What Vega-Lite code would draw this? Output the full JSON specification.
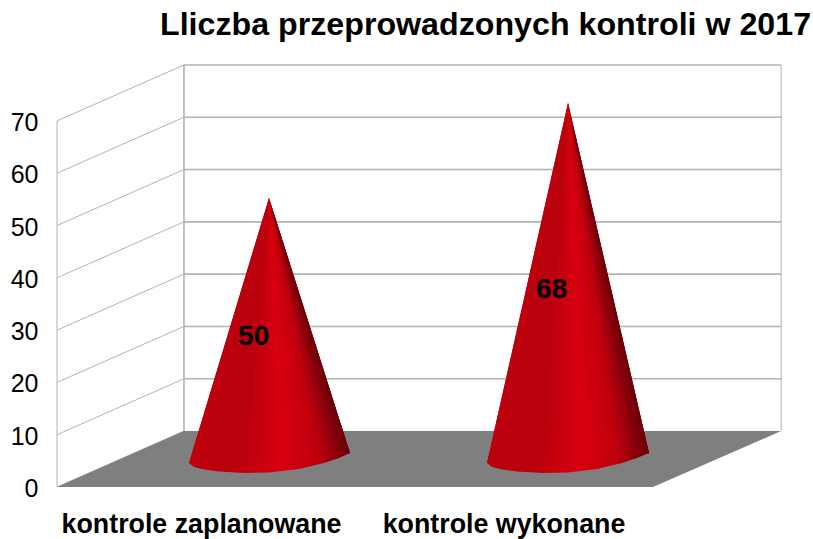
{
"$schema":"https://vega.github.io/schema/vega-lite/v6.json",
"width":813,"height":539,"padding":0,"autosize":{"type":"none"},"background":"white",
"config":{"view":{"stroke":null},"font":"Liberation Sans"},
"title":{"text":"Lliczba przeprowadzonych kontroli w 2017","anchor":"start","frame":"group","dx":160,"offset":-42,"fontSize":32.2,"fontWeight":"bold","color":"black","font":"Liberation Sans"},
"datasets":{
"floor":[{"x":0,"y":0,"y2":0},{"x":0.426,"y":0,"y2":10.7},{"x":2,"y":0,"y2":10.7},{"x":2.43,"y":10.7,"y2":10.7}],
"side":[
{"k":"a0","x":0,"y":0},{"k":"a0","x":0.426,"y":10.7},
{"k":"a10","x":0,"y":10},{"k":"a10","x":0.426,"y":20.7},
{"k":"a20","x":0,"y":20},{"k":"a20","x":0.426,"y":30.7},
{"k":"a30","x":0,"y":30},{"k":"a30","x":0.426,"y":40.7},
{"k":"a40","x":0,"y":40},{"k":"a40","x":0.426,"y":50.7},
{"k":"a50","x":0,"y":50},{"k":"a50","x":0.426,"y":60.7},
{"k":"a60","x":0,"y":60},{"k":"a60","x":0.426,"y":70.7},
{"k":"a70","x":0,"y":70},{"k":"a70","x":0.426,"y":80.7},
{"k":"v0","x":0,"y":0},{"k":"v0","x":0,"y":70},
{"k":"v2","x":2.43,"y":10.7},{"k":"v2","x":2.43,"y":80.7}
],
"back":[
{"k":"b10","x":0.426,"y":20.7},{"k":"b10","x":2.43,"y":20.7},
{"k":"b20","x":0.426,"y":30.7},{"k":"b20","x":2.43,"y":30.7},
{"k":"b30","x":0.426,"y":40.7},{"k":"b30","x":2.43,"y":40.7},
{"k":"b40","x":0.426,"y":50.7},{"k":"b40","x":2.43,"y":50.7},
{"k":"b50","x":0.426,"y":60.7},{"k":"b50","x":2.43,"y":60.7},
{"k":"b60","x":0.426,"y":70.7},{"k":"b60","x":2.43,"y":70.7},
{"k":"b70","x":0.426,"y":80.7},{"k":"b70","x":2.43,"y":80.7},
{"k":"v1","x":0.426,"y":10.7},{"k":"v1","x":0.426,"y":80.7}
],
"cones":[
{"c":"kontrole zaplanowane","x":0.4430,"y":4.59,"y2":4.59},
{"c":"kontrole zaplanowane","x":0.4597,"y":3.82,"y2":7.76},
{"c":"kontrole zaplanowane","x":0.4933,"y":3.35,"y2":14.09},
{"c":"kontrole zaplanowane","x":0.5436,"y":2.96,"y2":23.59},
{"c":"kontrole zaplanowane","x":0.6309,"y":2.68,"y2":40.06},
{"c":"kontrole zaplanowane","x":0.7114,"y":2.77,"y2":55.26},
{"c":"kontrole zaplanowane","x":0.8121,"y":3.44,"y2":37.21},
{"c":"kontrole zaplanowane","x":0.8960,"y":4.59,"y2":22.16},
{"c":"kontrole zaplanowane","x":0.9463,"y":5.54,"y2":13.12},
{"c":"kontrole zaplanowane","x":0.9832,"y":6.50,"y2":6.50},
{"c":"kontrole wykonane","x":1.4430,"y":4.59,"y2":4.59},
{"c":"kontrole wykonane","x":1.4597,"y":3.82,"y2":8.83},
{"c":"kontrole wykonane","x":1.4933,"y":3.35,"y2":17.34},
{"c":"kontrole wykonane","x":1.5436,"y":2.96,"y2":30.08},
{"c":"kontrole wykonane","x":1.6309,"y":2.68,"y2":52.18},
{"c":"kontrole wykonane","x":1.7148,"y":2.77,"y2":73.42},
{"c":"kontrole wykonane","x":1.8121,"y":3.44,"y2":49.46},
{"c":"kontrole wykonane","x":1.8960,"y":4.59,"y2":28.81},
{"c":"kontrole wykonane","x":1.9463,"y":5.54,"y2":16.42},
{"c":"kontrole wykonane","x":1.9866,"y":6.50,"y2":6.50}
],
"shade":[
{"c":"a","pos":0,"x":0.7114,"x2":0.7114,"y":55.26},{"c":"a","pos":0,"x":0.4430,"x2":0.4970,"y":4.59},
{"c":"a","pos":0.05,"x":0.7114,"x2":0.7114,"y":55.26},{"c":"a","pos":0.05,"x":0.4700,"x2":0.5240,"y":4.69},
{"c":"a","pos":0.1,"x":0.7114,"x2":0.7114,"y":55.26},{"c":"a","pos":0.1,"x":0.4970,"x2":0.5510,"y":4.78},
{"c":"a","pos":0.15,"x":0.7114,"x2":0.7114,"y":55.26},{"c":"a","pos":0.15,"x":0.5240,"x2":0.5781,"y":4.88},
{"c":"a","pos":0.2,"x":0.7114,"x2":0.7114,"y":55.26},{"c":"a","pos":0.2,"x":0.5510,"x2":0.6051,"y":4.97},
{"c":"a","pos":0.25,"x":0.7114,"x2":0.7114,"y":55.26},{"c":"a","pos":0.25,"x":0.5781,"x2":0.6321,"y":5.07},
{"c":"a","pos":0.3,"x":0.7114,"x2":0.7114,"y":55.26},{"c":"a","pos":0.3,"x":0.6051,"x2":0.6591,"y":5.16},
{"c":"a","pos":0.35,"x":0.7114,"x2":0.7114,"y":55.26},{"c":"a","pos":0.35,"x":0.6321,"x2":0.6861,"y":5.26},
{"c":"a","pos":0.4,"x":0.7114,"x2":0.7114,"y":55.26},{"c":"a","pos":0.4,"x":0.6591,"x2":0.7131,"y":5.35},
{"c":"a","pos":0.45,"x":0.7114,"x2":0.7114,"y":55.26},{"c":"a","pos":0.45,"x":0.6861,"x2":0.7401,"y":5.45},
{"c":"a","pos":0.5,"x":0.7114,"x2":0.7114,"y":55.26},{"c":"a","pos":0.5,"x":0.7131,"x2":0.7671,"y":5.55},
{"c":"a","pos":0.55,"x":0.7114,"x2":0.7114,"y":55.26},{"c":"a","pos":0.55,"x":0.7401,"x2":0.7941,"y":5.64},
{"c":"a","pos":0.6,"x":0.7114,"x2":0.7114,"y":55.26},{"c":"a","pos":0.6,"x":0.7671,"x2":0.8211,"y":5.74},
{"c":"a","pos":0.65,"x":0.7114,"x2":0.7114,"y":55.26},{"c":"a","pos":0.65,"x":0.7941,"x2":0.8482,"y":5.83},
{"c":"a","pos":0.7,"x":0.7114,"x2":0.7114,"y":55.26},{"c":"a","pos":0.7,"x":0.8211,"x2":0.8617,"y":5.93},
{"c":"a","pos":0.75,"x":0.7114,"x2":0.7114,"y":55.26},{"c":"a","pos":0.75,"x":0.8482,"x2":0.8752,"y":6.02},
{"c":"a","pos":0.775,"x":0.7114,"x2":0.7114,"y":55.26},{"c":"a","pos":0.775,"x":0.8617,"x2":0.8887,"y":6.07},
{"c":"a","pos":0.8,"x":0.7114,"x2":0.7114,"y":55.26},{"c":"a","pos":0.8,"x":0.8752,"x2":0.9022,"y":6.12},
{"c":"a","pos":0.825,"x":0.7114,"x2":0.7114,"y":55.26},{"c":"a","pos":0.825,"x":0.8887,"x2":0.9157,"y":6.17},
{"c":"a","pos":0.85,"x":0.7114,"x2":0.7114,"y":55.26},{"c":"a","pos":0.85,"x":0.9022,"x2":0.9292,"y":6.21},
{"c":"a","pos":0.875,"x":0.7114,"x2":0.7114,"y":55.26},{"c":"a","pos":0.875,"x":0.9157,"x2":0.9427,"y":6.26},
{"c":"a","pos":0.9,"x":0.7114,"x2":0.7114,"y":55.26},{"c":"a","pos":0.9,"x":0.9292,"x2":0.9562,"y":6.31},
{"c":"a","pos":0.925,"x":0.7114,"x2":0.7114,"y":55.26},{"c":"a","pos":0.925,"x":0.9427,"x2":0.9697,"y":6.36},
{"c":"a","pos":0.95,"x":0.7114,"x2":0.7114,"y":55.26},{"c":"a","pos":0.95,"x":0.9562,"x2":0.9832,"y":6.40},
{"c":"a","pos":0.975,"x":0.7114,"x2":0.7114,"y":55.26},{"c":"a","pos":0.975,"x":0.9697,"x2":0.9832,"y":6.50},
{"c":"b","pos":0,"x":1.7148,"x2":1.7148,"y":73.42},{"c":"b","pos":0,"x":1.4430,"x2":1.4974,"y":4.59},
{"c":"b","pos":0.05,"x":1.7148,"x2":1.7148,"y":73.42},{"c":"b","pos":0.05,"x":1.4702,"x2":1.5245,"y":4.69},
{"c":"b","pos":0.1,"x":1.7148,"x2":1.7148,"y":73.42},{"c":"b","pos":0.1,"x":1.4974,"x2":1.5517,"y":4.78},
{"c":"b","pos":0.15,"x":1.7148,"x2":1.7148,"y":73.42},{"c":"b","pos":0.15,"x":1.5245,"x2":1.5789,"y":4.88},
{"c":"b","pos":0.2,"x":1.7148,"x2":1.7148,"y":73.42},{"c":"b","pos":0.2,"x":1.5517,"x2":1.6061,"y":4.97},
{"c":"b","pos":0.25,"x":1.7148,"x2":1.7148,"y":73.42},{"c":"b","pos":0.25,"x":1.5789,"x2":1.6333,"y":5.07},
{"c":"b","pos":0.3,"x":1.7148,"x2":1.7148,"y":73.42},{"c":"b","pos":0.3,"x":1.6061,"x2":1.6604,"y":5.16},
{"c":"b","pos":0.35,"x":1.7148,"x2":1.7148,"y":73.42},{"c":"b","pos":0.35,"x":1.6333,"x2":1.6876,"y":5.26},
{"c":"b","pos":0.4,"x":1.7148,"x2":1.7148,"y":73.42},{"c":"b","pos":0.4,"x":1.6604,"x2":1.7148,"y":5.35},
{"c":"b","pos":0.45,"x":1.7148,"x2":1.7148,"y":73.42},{"c":"b","pos":0.45,"x":1.6876,"x2":1.7420,"y":5.45},
{"c":"b","pos":0.5,"x":1.7148,"x2":1.7148,"y":73.42},{"c":"b","pos":0.5,"x":1.7148,"x2":1.7692,"y":5.55},
{"c":"b","pos":0.55,"x":1.7148,"x2":1.7148,"y":73.42},{"c":"b","pos":0.55,"x":1.7420,"x2":1.7963,"y":5.64},
{"c":"b","pos":0.6,"x":1.7148,"x2":1.7148,"y":73.42},{"c":"b","pos":0.6,"x":1.7692,"x2":1.8235,"y":5.74},
{"c":"b","pos":0.65,"x":1.7148,"x2":1.7148,"y":73.42},{"c":"b","pos":0.65,"x":1.7963,"x2":1.8507,"y":5.83},
{"c":"b","pos":0.7,"x":1.7148,"x2":1.7148,"y":73.42},{"c":"b","pos":0.7,"x":1.8235,"x2":1.8643,"y":5.93},
{"c":"b","pos":0.75,"x":1.7148,"x2":1.7148,"y":73.42},{"c":"b","pos":0.75,"x":1.8507,"x2":1.8779,"y":6.02},
{"c":"b","pos":0.775,"x":1.7148,"x2":1.7148,"y":73.42},{"c":"b","pos":0.775,"x":1.8643,"x2":1.8915,"y":6.07},
{"c":"b","pos":0.8,"x":1.7148,"x2":1.7148,"y":73.42},{"c":"b","pos":0.8,"x":1.8779,"x2":1.9051,"y":6.12},
{"c":"b","pos":0.825,"x":1.7148,"x2":1.7148,"y":73.42},{"c":"b","pos":0.825,"x":1.8915,"x2":1.9187,"y":6.17},
{"c":"b","pos":0.85,"x":1.7148,"x2":1.7148,"y":73.42},{"c":"b","pos":0.85,"x":1.9051,"x2":1.9322,"y":6.21},
{"c":"b","pos":0.875,"x":1.7148,"x2":1.7148,"y":73.42},{"c":"b","pos":0.875,"x":1.9187,"x2":1.9458,"y":6.26},
{"c":"b","pos":0.9,"x":1.7148,"x2":1.7148,"y":73.42},{"c":"b","pos":0.9,"x":1.9322,"x2":1.9594,"y":6.31},
{"c":"b","pos":0.925,"x":1.7148,"x2":1.7148,"y":73.42},{"c":"b","pos":0.925,"x":1.9458,"x2":1.9730,"y":6.36},
{"c":"b","pos":0.95,"x":1.7148,"x2":1.7148,"y":73.42},{"c":"b","pos":0.95,"x":1.9594,"x2":1.9866,"y":6.40},
{"c":"b","pos":0.975,"x":1.7148,"x2":1.7148,"y":73.42},{"c":"b","pos":0.975,"x":1.9730,"x2":1.9866,"y":6.50}
],
"values":[{"label":"50","x":0.66,"y":28.6},{"label":"68","x":1.66,"y":37.6}],
"cats":[{"label":"kontrole zaplanowane","x":0.485,"y":-7.3},{"label":"kontrole wykonane","x":1.5,"y":-7.3}]
},
"encoding":{
"x":{"field":"x","type":"quantitative","axis":null,"scale":{"domain":[-0.1913,2.5369],"nice":false,"zero":false}},
"y":{"field":"y","type":"quantitative","scale":{"domain":[-9.94,93.12],"nice":false,"zero":false},
"axis":{"title":null,"values":[0,10,20,30,40,50,60,70],"domain":false,"ticks":false,"grid":false,"offset":-38,"labelPadding":0,"labelOffset":1.5,"labelFontSize":25,"labelColor":"black","labelFont":"Liberation Sans"}}
},
"layer":[
{"data":{"name":"back"},"mark":{"type":"line","color":"#b3b3b3","strokeWidth":1.6},"encoding":{"detail":{"field":"k"}}},
{"data":{"name":"side"},"mark":{"type":"line","color":"#b3b3b3","strokeWidth":1},"encoding":{"detail":{"field":"k"}}},
{"data":{"name":"floor"},"mark":{"type":"area","color":"#7f7f7f"},"encoding":{"y2":{"field":"y2"}}},
{"data":{"name":"cones"},"mark":{"type":"area","color":{"gradient":"linear","x1":0,"x2":1,"y1":0,"y2":0,"stops":[{"offset":0,"color":"#bc000e"},{"offset":0.3,"color":"#ba000d"},{"offset":0.57,"color":"#d9000f"},{"offset":0.8,"color":"#bd000d"},{"offset":1,"color":"#620003"}]}},"encoding":{"y2":{"field":"y2"},"detail":{"field":"c"}}},
{"data":{"name":"shade"},"mark":{"type":"area","orient":"horizontal"},"encoding":{"x2":{"field":"x2"},"detail":[{"field":"c"},{"field":"pos"}],"color":{"field":"pos","type":"quantitative","legend":null,"scale":{"domain":[0,0.3,0.57,0.8,1],"range":["#bc000e","#ba000d","#d9000f","#bd000d","#620003"]}}}},
{"data":{"name":"values"},"mark":{"type":"text","fontSize":28,"fontWeight":"bold","color":"black"},"encoding":{"text":{"field":"label"}}},
{"data":{"name":"cats"},"mark":{"type":"text","fontSize":26.8,"fontWeight":"bold","color":"black"},"encoding":{"text":{"field":"label"}}}
]
}
